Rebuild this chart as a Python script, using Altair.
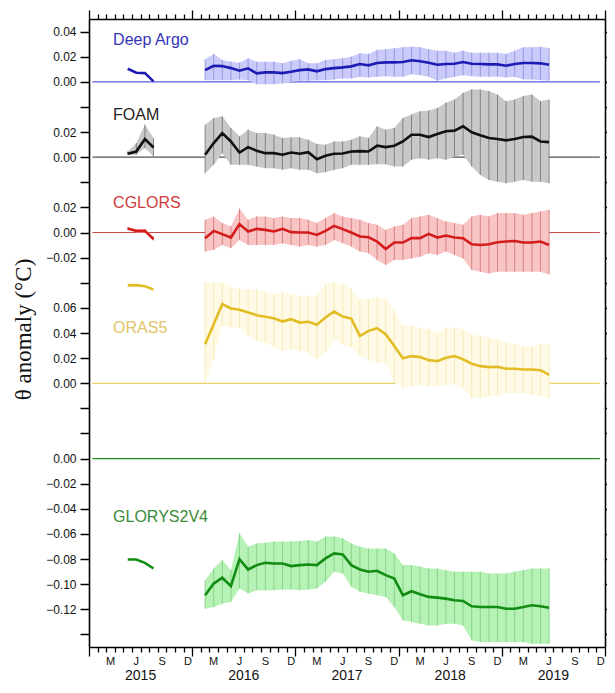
import altair as alt
import pandas as pd

# ---------------- data ----------------
names = ["Deep Argo", "FOAM", "CGLORS", "ORAS5", "GLORYS2V4"]
offsets = [0.0, -0.06, -0.12, -0.24, -0.30]   # vertical stacking offsets (°C)

# month index (0 = Jan 2015), mid-month positions
x2015 = [4.5, 5.5, 6.5, 7.5]                    # May-Aug 2015
xmain = [13.5 + i for i in range(41)]           # Feb 2016 - Jun 2019

argo15 = [0.0104, 0.0072, 0.0069, 0.0003]
argo = [0.0093, 0.0128, 0.0125, 0.0109, 0.0088, 0.0107, 0.0067, 0.0075, 0.0075, 0.0069,
        0.0080, 0.0093, 0.0099, 0.0083, 0.0101, 0.0109, 0.0115, 0.0123, 0.0142, 0.0131,
        0.0150, 0.0155, 0.0155, 0.0158, 0.0171, 0.0163, 0.0152, 0.0136, 0.0142, 0.0144,
        0.0158, 0.0144, 0.0142, 0.0139, 0.0139, 0.0128, 0.0142, 0.0150, 0.0150, 0.0147, 0.0136]
argo_hi = [0.0179, 0.0222, 0.0174, 0.0160, 0.0152, 0.0187, 0.0160, 0.0160, 0.0160, 0.0147,
           0.0168, 0.0179, 0.0147, 0.0147, 0.0174, 0.0179, 0.0187, 0.0200, 0.0227, 0.0222,
           0.0254, 0.0259, 0.0267, 0.0275, 0.0280, 0.0275, 0.0259, 0.0248, 0.0248, 0.0232,
           0.0248, 0.0232, 0.0232, 0.0232, 0.0232, 0.0222, 0.0248, 0.0275, 0.0275, 0.0280, 0.0267]
argo_lo = [0.0013, 0.0013, 0.0013, 0.0013, 0.0019, 0.0013, -0.0019, -0.0019, -0.0019, -0.0013,
           0.0000, 0.0008, 0.0008, 0.0013, 0.0013, 0.0019, 0.0027, 0.0027, 0.0040, 0.0035,
           0.0040, 0.0045, 0.0040, 0.0040, 0.0061, 0.0053, 0.0040, 0.0008, 0.0027, 0.0040,
           0.0053, 0.0045, 0.0040, 0.0040, 0.0040, 0.0035, 0.0040, 0.0019, 0.0019, 0.0013, 0.0008]

foam15 = [0.0027, 0.0045, 0.0144, 0.0077]
foam15_hi = [0.0045, 0.0112, 0.0259, 0.0152]
foam15_lo = [0.0019, 0.0019, 0.0072, 0.0005]
foam = [0.0019, 0.0112, 0.0192, 0.0125, 0.0037, 0.0080, 0.0051, 0.0032, 0.0032, 0.0019,
        0.0037, 0.0027, 0.0040, -0.0016, 0.0011, 0.0027, 0.0029, 0.0045, 0.0048, 0.0045,
        0.0091, 0.0080, 0.0091, 0.0125, 0.0179, 0.0179, 0.0160, 0.0184, 0.0206, 0.0211,
        0.0246, 0.0198, 0.0174, 0.0152, 0.0144, 0.0134, 0.0144, 0.0160, 0.0163, 0.0125, 0.0120]
foam_hi = [0.0259, 0.0312, 0.0326, 0.0232, 0.0166, 0.0219, 0.0192, 0.0192, 0.0179, 0.0152,
           0.0158, 0.0158, 0.0139, 0.0104, 0.0099, 0.0125, 0.0125, 0.0139, 0.0166, 0.0152,
           0.0246, 0.0219, 0.0232, 0.0312, 0.0339, 0.0366, 0.0371, 0.0392, 0.0433, 0.0459,
           0.0513, 0.0539, 0.0539, 0.0526, 0.0499, 0.0446, 0.0459, 0.0486, 0.0499, 0.0446, 0.0459]
foam_lo = [-0.0128, -0.0061, 0.0032, -0.0061, -0.0061, -0.0061, -0.0075, -0.0088, -0.0088, -0.0101,
           -0.0088, -0.0101, -0.0101, -0.0128, -0.0120, -0.0101, -0.0088, -0.0061, -0.0061, -0.0061,
           -0.0056, -0.0056, -0.0075, -0.0075, -0.0021, -0.0008, -0.0021, -0.0008, -0.0021, 0.0005,
           0.0019, -0.0075, -0.0142, -0.0182, -0.0195, -0.0208, -0.0195, -0.0182, -0.0195, -0.0195, -0.0208]

cglors15 = [0.0032, 0.0013, 0.0013, -0.0053]
cglors15_hi = [0.0042, 0.0027, 0.0027, -0.0032]
cglors15_lo = [0.0022, 0.0000, 0.0000, -0.0066]
cglors = [-0.0045, 0.0013, -0.0013, -0.0040, 0.0067, 0.0008, 0.0029, 0.0021, 0.0008, 0.0029,
          0.0003, 0.0000, 0.0000, -0.0019, 0.0013, 0.0053, 0.0027, 0.0000, -0.0032, -0.0037,
          -0.0072, -0.0131, -0.0080, -0.0080, -0.0045, -0.0045, -0.0011, -0.0040, -0.0024, -0.0040,
          -0.0045, -0.0093, -0.0099, -0.0093, -0.0077, -0.0072, -0.0067, -0.0080, -0.0080, -0.0072, -0.0099]
cglors_hi = [0.0101, 0.0128, 0.0075, 0.0048, 0.0190, 0.0101, 0.0128, 0.0128, 0.0115, 0.0128,
             0.0115, 0.0115, 0.0101, 0.0075, 0.0115, 0.0155, 0.0128, 0.0115, 0.0101, 0.0075,
             0.0061, 0.0021, 0.0048, 0.0061, 0.0115, 0.0128, 0.0142, 0.0115, 0.0088, 0.0075,
             0.0061, 0.0128, 0.0142, 0.0128, 0.0155, 0.0155, 0.0155, 0.0142, 0.0155, 0.0168, 0.0182]
cglors_lo = [-0.0152, -0.0139, -0.0099, -0.0125, -0.0059, -0.0099, -0.0099, -0.0099, -0.0099, -0.0085,
             -0.0099, -0.0112, -0.0099, -0.0112, -0.0099, -0.0059, -0.0085, -0.0112, -0.0152, -0.0166,
             -0.0219, -0.0259, -0.0219, -0.0219, -0.0206, -0.0192, -0.0166, -0.0179, -0.0152, -0.0179,
             -0.0206, -0.0299, -0.0312, -0.0326, -0.0312, -0.0312, -0.0312, -0.0312, -0.0312, -0.0312, -0.0334]

oras15 = [0.0779, 0.0781, 0.0773, 0.0747]
oras = [0.0310, 0.0470, 0.0630, 0.0595, 0.0585, 0.0563, 0.0542, 0.0529, 0.0518, 0.0491,
        0.0510, 0.0483, 0.0489, 0.0465, 0.0523, 0.0571, 0.0531, 0.0515, 0.0376, 0.0417,
        0.0438, 0.0390, 0.0296, 0.0198, 0.0216, 0.0208, 0.0184, 0.0176, 0.0203, 0.0216,
        0.0190, 0.0155, 0.0136, 0.0128, 0.0131, 0.0115, 0.0115, 0.0109, 0.0109, 0.0104, 0.0067]
oras_hi = [0.0804, 0.0804, 0.0804, 0.0764, 0.0750, 0.0750, 0.0750, 0.0724, 0.0710, 0.0724,
           0.0710, 0.0697, 0.0697, 0.0697, 0.0790, 0.0804, 0.0790, 0.0750, 0.0670, 0.0670,
           0.0684, 0.0670, 0.0590, 0.0457, 0.0457, 0.0443, 0.0430, 0.0403, 0.0443, 0.0443,
           0.0430, 0.0390, 0.0376, 0.0363, 0.0350, 0.0323, 0.0310, 0.0296, 0.0296, 0.0310, 0.0310]
oras_lo = [0.0003, 0.0190, 0.0457, 0.0443, 0.0443, 0.0376, 0.0336, 0.0323, 0.0283, 0.0256,
           0.0270, 0.0256, 0.0243, 0.0190, 0.0243, 0.0350, 0.0310, 0.0283, 0.0216, 0.0190,
           0.0163, 0.0163, 0.0003, -0.0037, -0.0024, -0.0011, -0.0024, -0.0024, -0.0011, -0.0011,
           -0.0037, -0.0117, -0.0117, -0.0104, -0.0104, -0.0077, -0.0077, -0.0077, -0.0091, -0.0104, -0.0117]

glorys15 = [-0.0803, -0.0803, -0.0830, -0.0875]
glorys = [-0.1088, -0.0995, -0.0949, -0.1016, -0.0800, -0.0883, -0.0848, -0.0829, -0.0835, -0.0835,
          -0.0856, -0.0848, -0.0843, -0.0848, -0.0795, -0.0755, -0.0763, -0.0848, -0.0883, -0.0901,
          -0.0893, -0.0928, -0.0955, -0.1088, -0.1056, -0.1080, -0.1101, -0.1107, -0.1115, -0.1128,
          -0.1133, -0.1176, -0.1181, -0.1181, -0.1181, -0.1195, -0.1195, -0.1181, -0.1168, -0.1176, -0.1187]
glorys_hi = [-0.0968, -0.0875, -0.0808, -0.0888, -0.0595, -0.0701, -0.0675, -0.0669, -0.0661, -0.0661,
             -0.0661, -0.0656, -0.0648, -0.0661, -0.0621, -0.0621, -0.0635, -0.0675, -0.0701, -0.0715,
             -0.0715, -0.0715, -0.0755, -0.0848, -0.0848, -0.0861, -0.0875, -0.0875, -0.0888, -0.0901,
             -0.0901, -0.0901, -0.0901, -0.0915, -0.0915, -0.0915, -0.0901, -0.0888, -0.0875, -0.0875, -0.0875]
glorys_lo = [-0.1195, -0.1181, -0.1155, -0.1141, -0.1035, -0.1075, -0.1048, -0.1048, -0.1048, -0.1043,
             -0.1043, -0.1048, -0.1043, -0.1035, -0.0981, -0.0901, -0.0915, -0.1021, -0.1061, -0.1075,
             -0.1088, -0.1101, -0.1181, -0.1288, -0.1301, -0.1315, -0.1328, -0.1328, -0.1315, -0.1315,
             -0.1328, -0.1448, -0.1461, -0.1461, -0.1461, -0.1461, -0.1461, -0.1461, -0.1475, -0.1475, -0.1475]

month_letters = ["M", "J", "S", "D"]
month_pos = [2.5, 5.5, 8.5, 11.5]
years = ["2015", "2016", "2017", "2018", "2019"]

ytick_labels = ["0.04", "0.02", "0.00", "",
                "0.02", "0.00", "",
                "0.02", "0.00", "\u22120.02", "",
                "0.06", "0.04", "0.02", "0.00", "", "",
                "0.00", "\u22120.02", "\u22120.04", "\u22120.06", "\u22120.08", "\u22120.10", "\u22120.12", ""]

# ---------------- styles ----------------
line_cols = ["#1c1cb4", "#111111", "#d41c1c", "#e2bc24", "#138c13"]
fill_cols = ["#cacafb", "#c8c8c8", "#f9c4c4", "#fffae6", "#b6f2b6"]
rule_cols = ["#8c8cd8", "#707070", "#cc7474", "#f2e6ae", "#7ccc7c"]
zero_cols = ["#5a5ae0", "#505050", "#c84848", "#e6c440", "#1c8c1c"]
text_cols = ["#3434b8", "#222222", "#cc3c3c", "#e0c468", "#3a8a3a"]
label_xy = [(2.8, 0.0334), (2.8, -0.0263), (2.8, -0.0963), (2.8, -0.1959), (2.8, -0.3463)]

# ---------------- assemble tables ----------------
series_main = {
    "Deep Argo": (argo, argo_lo, argo_hi),
    "FOAM": (foam, foam_lo, foam_hi),
    "CGLORS": (cglors, cglors_lo, cglors_hi),
    "ORAS5": (oras, oras_lo, oras_hi),
    "GLORYS2V4": (glorys, glorys_lo, glorys_hi),
}
series_15 = {
    "Deep Argo": (argo15, None, None),
    "FOAM": (foam15, foam15_lo, foam15_hi),
    "CGLORS": (cglors15, cglors15_lo, cglors15_hi),
    "ORAS5": (oras15, None, None),
    "GLORYS2V4": (glorys15, None, None),
}

line_rows, band_rows = [], []
for name, off in zip(names, offsets):
    for seg, xs_, (m, lo, hi) in (("a", x2015, series_15[name]), ("b", xmain, series_main[name])):
        for i, x in enumerate(xs_):
            line_rows.append({"series": name, "key": name + seg, "x": x, "g": m[i] + off})
            if lo is not None:
                band_rows.append({"series": name, "key": name + seg, "x": x,
                                  "glo": lo[i] + off, "ghi": hi[i] + off})
line_df = pd.DataFrame(line_rows)
band_df = pd.DataFrame(band_rows)
zero_df = pd.DataFrame({"series": names, "off": offsets, "x0": [0.4] * 5, "x1": [59.4] * 5})
lab_df = pd.DataFrame({"series": names, "lx": [p[0] for p in label_xy], "ly": [p[1] for p in label_xy]})
mon_df = pd.DataFrame({"m": [p + 12 * k for k in range(5) for p in month_pos],
                       "lab": [l for k in range(5) for l in month_letters]})
yr_df = pd.DataFrame({"m": [6 + 12 * k for k in range(5)], "lab": years})

W, H = 516, 628
xs = alt.Scale(domain=[0, 60], nice=False, zero=False)
ys = alt.Scale(domain=[-0.45, 0.05], nice=False, zero=False)
ytick_vals = [round(0.04 - 0.02 * k, 2) for k in range(25)]
xtick_vals = list(range(61))
lab_js = "[" + ",".join("'" + s + "'" for s in ytick_labels) + "]"

major = {"condition": {"test": "datum.value % 12 === 0", "value": 9}, "value": 5}

axis_bottom = alt.Axis(orient="bottom", values=xtick_vals, labels=False, tickSize=major,
                       tickColor="black", tickWidth=1.3, domainColor="black", domainWidth=1.6,
                       grid=False, title=None)
axis_top = alt.Axis(orient="top", values=xtick_vals, labels=False, tickSize=major,
                    tickColor="black", tickWidth=1.3, domainColor="black", domainWidth=1.6,
                    grid=False, title=None)
axis_left = alt.Axis(orient="left", values=ytick_vals, tickSize=9, tickWidth=1.5,
                     tickColor="black", domainColor="black", domainWidth=1.6, grid=False,
                     labelExpr=lab_js + "[round((0.04 - datum.value) / 0.02)]",
                     labelFont="Liberation Sans", labelFontSize=12, labelColor="#111",
                     labelPadding=4,
                     title="\u03b8 anomaly (\u00b0C)", titleFont="Liberation Serif",
                     titleFontSize=23, titleFontWeight="normal", titleColor="#111",
                     titleX=-54, titleY=H / 2 - 4, titleAngle=270)
axis_right = alt.Axis(orient="right", values=ytick_vals, labels=False, tickSize=7,
                      tickWidth=1.5, tickColor="black", domainColor="black", domainWidth=1.6,
                      grid=False, title=None)

def cscale(rng):
    return alt.Scale(domain=names, range=rng)

zero = alt.Chart(zero_df).mark_rule(strokeWidth=1.2).encode(
    x=alt.X("x0:Q", scale=xs, axis=axis_top), x2="x1:Q",
    y=alt.Y("off:Q", scale=ys, axis=axis_right),
    color=alt.Color("series:N", scale=cscale(zero_cols), legend=None))

band = alt.Chart(band_df).mark_area(opacity=1).encode(
    x=alt.X("x:Q", scale=xs, axis=None),
    y=alt.Y("glo:Q", scale=ys, axis=None), y2="ghi:Q",
    color=alt.Color("series:N", scale=cscale(fill_cols), legend=None),
    detail="key:N")

ticks = alt.Chart(band_df).mark_rule(strokeWidth=0.8).encode(
    x=alt.X("x:Q", scale=xs, axis=None),
    y=alt.Y("glo:Q", scale=ys, axis=None), y2="ghi:Q",
    color=alt.Color("series:N", scale=cscale(rule_cols), legend=None))

lines = alt.Chart(line_df).mark_line(strokeWidth=2.6).encode(
    x=alt.X("x:Q", scale=xs, axis=axis_bottom),
    y=alt.Y("g:Q", scale=ys, axis=axis_left),
    color=alt.Color("series:N", scale=cscale(line_cols), legend=None),
    detail="key:N", order="x:Q")

labels = alt.Chart(lab_df).mark_text(align="left", baseline="middle", fontSize=16,
                                     font="Liberation Sans").encode(
    x=alt.X("lx:Q", scale=xs, axis=None),
    y=alt.Y("ly:Q", scale=ys, axis=None),
    text="series:N",
    color=alt.Color("series:N", scale=cscale(text_cols), legend=None))

mon = alt.Chart(mon_df).mark_text(baseline="alphabetic", fontSize=11, font="Liberation Sans",
                                  color="#111").encode(
    x=alt.X("m:Q", scale=xs, axis=None), y=alt.value(H + 18), text="lab:N")

yr = alt.Chart(yr_df).mark_text(baseline="alphabetic", fontSize=14, font="Liberation Sans",
                                color="#111").encode(
    x=alt.X("m:Q", scale=xs, axis=None), y=alt.value(H + 33), text="lab:N")

chart = alt.layer(zero, band, ticks, lines, labels, mon, yr).resolve_scale(
    color="independent").resolve_axis(x="independent", y="independent").properties(
    width=W, height=H,
    autosize=alt.AutoSizeParams(type="none"),
    padding={"left": 81, "top": 11, "right": 2, "bottom": 37},
).configure_view(stroke=None).configure(background="white")

chart.save("out.html", embed_options={"renderer": "svg", "actions": False})
